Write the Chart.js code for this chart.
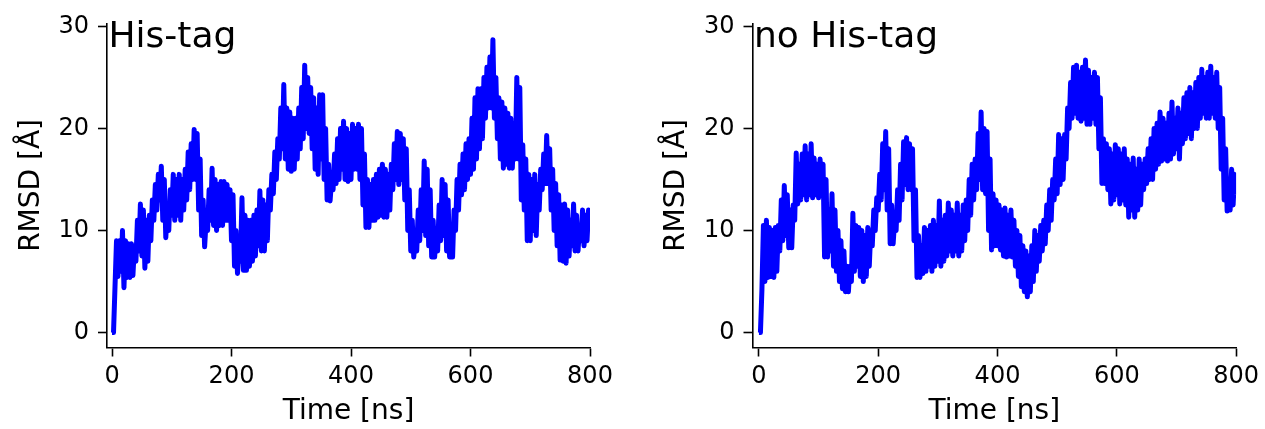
<!DOCTYPE html>
<html>
<head>
<meta charset="utf-8">
<script src="https://cdn.jsdelivr.net/npm/chart.js@4"></script>
<style>
  body { margin: 0; background: #fff; }
  canvas { position: absolute; top: 0; }
</style>
</head>
<body>
<canvas id="left" width="632" height="429" style="left:0"></canvas>
<canvas id="right" width="633" height="429" style="left:632px"></canvas>
<script>
// RMSD traces: local high / low of the noisy trace, one pair every 5 ns (0..800 ns)
var stepNs = 5;
var xTicks = [0, 200, 400, 600, 800];
var yTicks = [0, 10, 20, 30];
var panelNames = ["His-tag", "no His-tag"];

var hisTagHigh = [
  0, 9.0, 9.0, 10.0, 9.0, 8.7, 8.7, 8.5, 11.0, 12.6,
  12.0, 11.0, 11.5, 13.0, 14.5, 15.5, 16.3, 15.0, 12.0, 14.0,
  15.5, 15.0, 15.5, 15.0, 16.0, 17.7, 18.5, 19.9, 19.5, 17.0,
  13.0, 11.0, 14.0, 16.1, 15.0, 14.5, 14.8, 14.8, 14.5, 14.0,
  13.5, 10.0, 8.0, 13.2, 11.5, 11.0, 11.0, 11.5, 12.0, 13.9,
  13.0, 12.5, 14.0, 15.5, 17.7, 19.0, 22.0, 24.3, 22.0, 21.6,
  21.0, 21.0, 22.0, 24.0, 26.2, 25.0, 24.0, 23.0, 22.0, 23.3,
  23.3, 20.0, 16.5, 15.0, 17.5, 19.0, 20.0, 20.7, 20.0, 19.5,
  20.4, 20.0, 20.4, 20.0, 17.5, 15.0, 14.5, 15.0, 15.5, 16.0,
  16.5, 16.0, 15.5, 16.5, 18.5, 19.7, 19.5, 19.0, 18.0, 14.0,
  11.0, 9.0, 12.0, 14.0, 16.8, 16.0, 14.0, 11.0, 10.0, 12.5,
  15.0, 14.5, 13.0, 10.5, 12.0, 15.0, 16.5, 17.5, 18.5, 19.0,
  21.0, 23.0, 23.9, 23.9, 25.0, 26.0, 27.0, 28.7, 25.0, 23.0,
  22.6, 22.0, 21.5, 21.0, 20.5, 25.0, 24.0, 18.4, 17.0, 15.5,
  15.0, 15.5, 14.5, 16.0, 17.5, 19.3, 18.0, 16.0, 14.6, 13.5,
  12.5, 12.6, 12.0, 11.0, 12.6, 11.5, 10.5, 12.0, 11.5, 12.0,
  11.5
];
var hisTagLow = [
  0, 4.5, 5.5, 6.0, 4.4, 5.4, 5.4, 5.6, 7.0, 8.0,
  7.5, 6.3, 7.0, 9.0, 11.0, 12.0, 13.0, 11.0, 9.3, 10.0,
  11.5, 11.0, 11.5, 11.0, 12.0, 13.0, 14.0, 15.0, 15.0, 12.0,
  9.5, 8.4, 10.0, 11.0, 10.5, 10.0, 10.5, 10.5, 11.0, 11.0,
  9.0, 6.5, 5.8, 7.0, 6.1, 6.1, 6.5, 7.0, 7.5, 8.5,
  8.0, 8.0, 9.0, 12.0, 13.6, 15.0, 17.0, 18.0, 17.0, 16.0,
  15.8, 16.0, 17.0, 18.0, 19.0, 20.0, 19.5, 18.0, 16.0, 15.5,
  17.0, 15.0, 13.0, 12.9, 14.0, 14.6, 15.0, 16.0, 15.0, 14.8,
  15.0, 16.0, 16.0, 15.0, 12.5, 10.3, 10.3, 11.0, 11.0, 11.3,
  11.5, 11.3, 11.3, 12.0, 14.0, 15.0, 14.5, 15.0, 13.0, 10.0,
  8.0, 7.4, 8.0, 9.0, 10.0, 9.5, 8.5, 7.4, 7.4, 8.0,
  9.0, 9.5, 8.0, 7.4, 7.4, 10.0, 12.0, 13.5, 14.0, 15.0,
  15.5, 16.0, 17.0, 18.0, 19.0, 21.0, 22.0, 22.0, 21.0, 19.0,
  17.0, 16.1, 16.5, 16.1, 16.1, 17.0, 17.0, 13.0, 12.0, 9.0,
  9.0, 10.0, 9.5, 12.0, 14.0, 14.6, 14.6, 12.0, 10.0, 8.5,
  7.1, 7.0, 6.8, 7.5, 8.5, 8.0, 8.0, 9.0, 8.5, 9.0,
  10.0
];

var noHisTagHigh = [
  0, 10.5, 11.0, 10.3, 10.0, 10.3, 10.5, 13.0, 14.4, 13.5,
  12.0, 12.5, 17.6, 16.5, 17.5, 18.3, 17.5, 18.5, 17.1, 16.5,
  17.0, 16.5, 15.0, 12.0, 13.6, 12.0, 10.0, 9.0, 8.0, 6.5,
  6.5, 11.7, 10.5, 10.3, 10.0, 9.5, 10.3, 10.0, 12.0, 13.2,
  15.5, 18.5, 19.7, 18.0, 12.5, 11.0, 14.0, 16.5, 18.7, 19.1,
  18.5, 18.0, 14.0, 9.5, 8.5, 10.3, 10.0, 10.5, 11.0, 10.5,
  12.9, 11.0, 11.5, 12.7, 12.0, 11.5, 12.7, 11.5, 12.5, 13.0,
  15.0, 16.5, 17.0, 19.5, 21.6, 20.0, 19.7, 17.0, 13.6, 13.0,
  12.5, 12.0, 12.2, 11.5, 12.0, 11.0, 10.0, 9.5, 8.5, 8.0,
  7.5, 8.5, 10.0, 9.5, 10.5, 11.0, 12.5, 14.0, 15.0, 17.0,
  19.4, 19.0, 19.4, 22.0, 24.5, 26.0, 26.2, 25.5, 26.0, 26.7,
  25.7, 25.0, 25.5, 25.0, 23.0, 19.0, 18.5, 18.0, 17.5, 18.4,
  18.0, 17.5, 18.0, 17.0, 16.5, 17.1, 16.0, 17.0, 16.5, 17.0,
  18.0, 19.0, 20.0, 20.5, 21.6, 21.0, 20.5, 21.5, 22.6, 21.0,
  22.0, 21.5, 23.0, 23.5, 24.0, 23.5, 24.5, 25.0, 25.8, 25.0,
  25.5, 26.1, 25.0, 25.5, 24.0, 21.0, 18.0, 14.5, 16.0, 15.5,
  14.5
];
var noHisTagLow = [
  0, 4.2, 5.0, 5.4, 5.5, 5.4, 6.0, 8.0, 9.0, 9.5,
  8.3, 8.3, 11.0, 12.6, 13.0, 13.5, 13.0, 13.5, 13.2, 13.5,
  13.2, 13.5, 7.4, 7.4, 8.0, 6.5, 6.0, 5.0, 4.3, 4.0,
  4.0, 5.0, 6.0, 6.5, 5.5, 5.0, 5.5, 6.5, 8.5, 10.0,
  12.0, 13.0, 14.0, 12.0, 8.7, 8.7, 10.0, 11.0, 13.0, 14.5,
  14.0, 14.0, 9.0, 5.4, 5.4, 5.8, 6.0, 6.5, 6.0, 6.5,
  7.0, 6.5, 7.0, 7.5, 8.0, 7.5, 8.0, 7.5, 8.0, 9.0,
  10.0, 11.5, 13.0, 14.0, 15.0, 14.0, 13.6, 10.0, 8.1, 8.5,
  8.5, 8.1, 7.5, 7.4, 7.5, 7.4, 6.5, 5.5, 4.5, 4.0,
  3.5, 4.0, 5.0, 6.0, 7.0, 8.0, 8.7, 10.0, 11.0, 13.0,
  13.6, 14.5, 15.0, 17.0, 20.0, 21.0, 21.5, 21.0, 20.7, 21.0,
  20.4, 20.4, 21.0, 20.4, 18.0, 14.6, 14.6, 14.0, 12.6, 13.0,
  13.5, 12.6, 13.0, 12.5, 11.3, 12.0, 11.3, 12.0, 12.5, 14.0,
  14.6, 15.0, 15.0, 16.0, 16.5, 16.8, 17.0, 16.8, 17.0, 17.5,
  18.0, 17.0, 18.5, 19.0, 19.5, 19.0, 20.0, 20.0, 21.0, 21.5,
  21.0, 21.0, 21.5, 21.0, 20.0, 16.0, 13.0, 11.9, 12.0, 12.5,
  13.5
];

var FONT = '"DejaVu Sans", sans-serif';

// zig-zag between the low and high of each 5 ns window, like the dense raw trace
function tracePoints(high, low) {
  var pts = [];
  for (var i = 0; i < high.length; i++) {
    pts.push({ x: i * stepNs, y: low[i] });
    if (i * stepNs + stepNs / 2 <= 800) pts.push({ x: i * stepNs + stepNs / 2, y: high[i] });
  }
  return pts;
}

var panelLabel = {
  id: 'panelLabel',
  afterDraw: function(chart, args, opts) {
    var ctx = chart.ctx;
    ctx.save();
    ctx.font = '36px ' + FONT;
    ctx.fillStyle = '#000';
    ctx.textBaseline = 'alphabetic';
    ctx.textAlign = 'left';
    ctx.fillText(opts.text, chart.chartArea.left + 1.5, 47);
    ctx.restore();
  }
};

function axisLook() {
  return {
    border: { display: true, color: '#000', width: 1.6 },
    grid: { drawOnChartArea: false, drawTicks: true, tickLength: 9, tickWidth: 1.6, tickColor: '#000' }
  };
}

function makePanel(id, high, low, name, xMin, yAxisWidth, padRight, yTitlePad) {
  var xAxis = axisLook();
  xAxis.type = 'linear';
  xAxis.min = xMin;
  xAxis.max = 800;
  xAxis.afterBuildTicks = function(s) { s.ticks = xTicks.map(function(v) { return { value: v }; }); };
  xAxis.afterFit = function(s) { s.height = 81.5; };
  xAxis.ticks = { color: '#000', font: { family: FONT, size: 24 }, padding: 6, maxRotation: 0, autoSkip: false };
  xAxis.title = { display: true, text: 'Time [ns]', color: '#000', font: { family: FONT, size: 28 }, padding: { top: 0, bottom: 0 } };

  var yAxis = axisLook();
  yAxis.min = -1.46;
  yAxis.max = 30.29;
  yAxis.afterBuildTicks = function(s) { s.ticks = yTicks.map(function(v) { return { value: v }; }); };
  yAxis.afterFit = function(s) { s.width = yAxisWidth; };
  yAxis.ticks = { color: '#000', font: { family: FONT, size: 24 }, padding: 9 };
  yAxis.title = { display: true, text: 'RMSD [Å]', color: '#000', font: { family: FONT, size: 28 }, padding: { top: yTitlePad, bottom: 0 } };

  return new Chart(id, {
    type: 'line',
    data: {
      datasets: [{
        data: tracePoints(high, low),
        borderColor: '#0000ff',
        borderWidth: 5,
        borderJoinStyle: 'round',
        pointRadius: 0,
        tension: 0,
        fill: false
      }]
    },
    options: {
      responsive: false,
      animation: false,
      layout: { padding: { left: 0, top: 22, right: padRight, bottom: 0 } },
      plugins: {
        legend: { display: false },
        tooltip: { enabled: false },
        panelLabel: { text: name }
      },
      scales: { x: xAxis, y: yAxis }
    },
    plugins: [panelLabel]
  });
}

makePanel('left', hisTagHigh, hisTagLow, panelNames[0], -8.4, 107, 42, 14.5);
makePanel('right', noHisTagHigh, noHisTagLow, panelNames[1], -10.8, 120.5, 28.3, 28);
</script>
</body>
</html>
